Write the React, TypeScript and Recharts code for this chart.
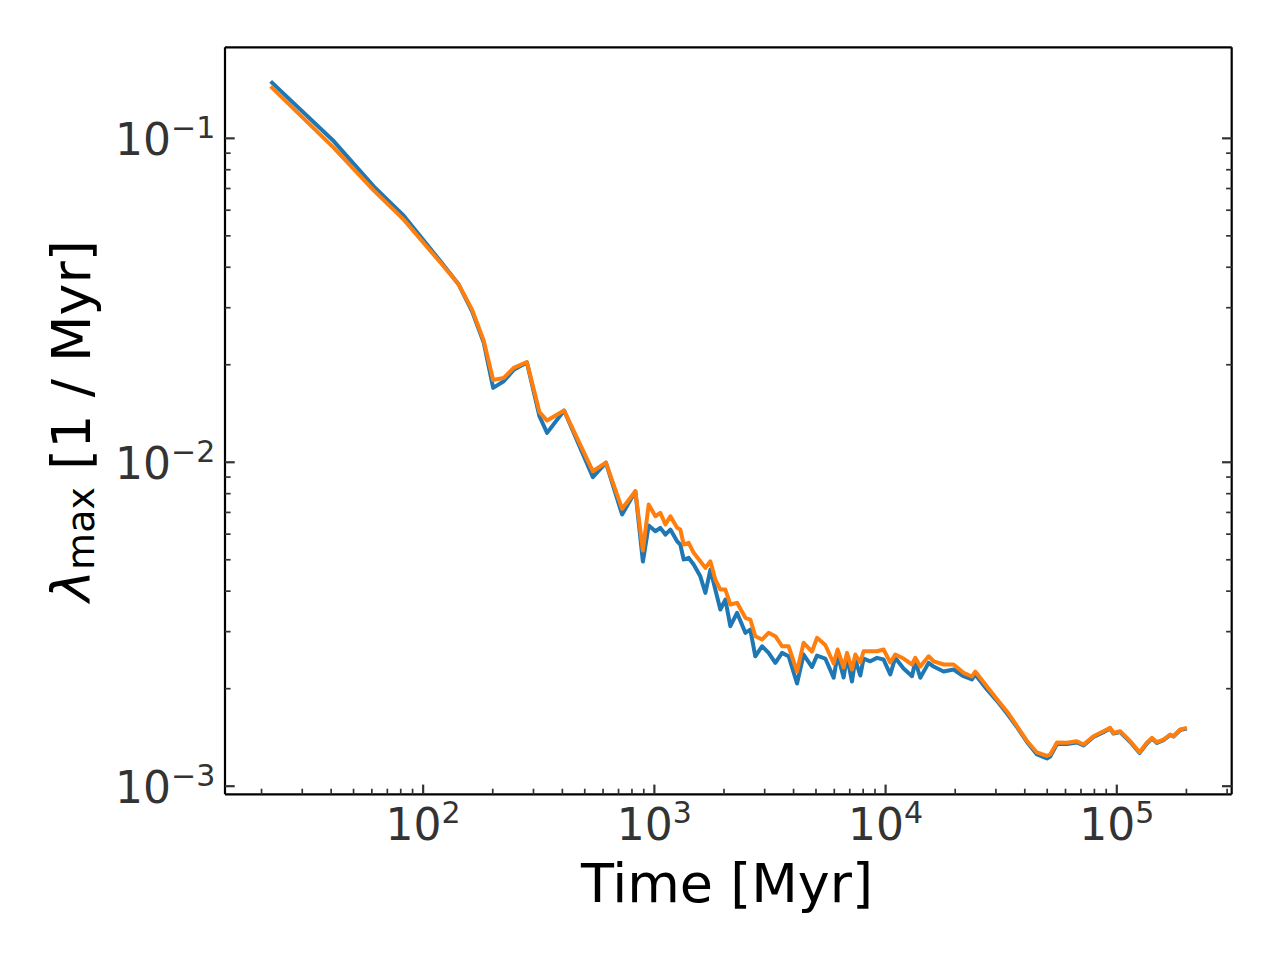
import React from 'react';
import { LineChart, Line, XAxis, YAxis } from 'recharts';

// Time in Myr
const times = [
  21.9, 41.1, 61.1, 82.4, 118.8, 142.5, 162.8, 182.8, 200.8, 223.1,
  246.5, 281.0, 318.4, 343.6, 407.0, 542.1, 617.1, 725.2, 827.7, 892.0,
  945.0, 1010, 1061, 1116, 1173, 1254, 1295, 1339, 1407, 1479,
  1580, 1662, 1747, 1835, 1929, 2028, 2131, 2278, 2475, 2600,
  2733, 2921, 3120, 3336, 3566, 3807, 4140, 4421, 4806, 5051,
  5486, 5961, 6203, 6584, 6810, 7157, 7396, 7773, 8033, 8587,
  9180, 9802, 10480, 11010, 11960, 13010, 13440, 14130, 15350, 16130,
  17820, 19680, 21740, 23630, 24420, 27440, 30800, 34020, 36990, 40870,
  45150, 49860, 51530, 55100, 60850, 67220, 71780, 79280, 87590, 93650,
  96760, 103400, 114300, 125400, 134900, 141800, 149100, 159200, 170200, 175900,
  188000, 200900,
];

// lambda_max, first run (blue)
const blueValues = [
  0.1499, 0.0979, 0.0711, 0.0577, 0.04174, 0.03536, 0.02924, 0.02341, 0.01697, 0.01778,
  0.01932, 0.02032, 0.01387, 0.01232, 0.01444, 0.009, 0.00998, 0.006898, 0.008136, 0.004937,
  0.006378, 0.006124, 0.006274, 0.005981, 0.006198, 0.005704, 0.005572, 0.005008, 0.005068, 0.004833,
  0.004446, 0.003952, 0.004664, 0.004046, 0.003511, 0.003769, 0.003118, 0.003429, 0.002975, 0.003045,
  0.002518, 0.002704, 0.00258, 0.002403, 0.00258, 0.002518, 0.002075, 0.002549, 0.002333, 0.002531,
  0.002478, 0.002161, 0.002549, 0.002165, 0.002513, 0.002104, 0.00246, 0.002196, 0.002478, 0.00243,
  0.00249, 0.00246, 0.002212, 0.00249, 0.002308, 0.002185, 0.00243, 0.002161, 0.002403, 0.002341,
  0.002259, 0.002292, 0.002185, 0.002135, 0.002212, 0.001988, 0.001809, 0.001652, 0.001523, 0.001369,
  0.001253, 0.001218, 0.001235, 0.00135, 0.00135, 0.001364, 0.001336, 0.001418, 0.001469, 0.001506,
  0.001454, 0.001469, 0.001369, 0.001266, 0.001355, 0.001403, 0.001359, 0.001388, 0.001439, 0.001424,
  0.001491, 0.001506,
];

// lambda_max, second run (orange)
const orangeValues = [
  0.1447, 0.0934, 0.0691, 0.0561, 0.04135, 0.03536, 0.0296, 0.02374, 0.01794, 0.01822,
  0.01956, 0.02039, 0.01429, 0.01345, 0.01444, 0.00938, 0.00998, 0.007183, 0.008136, 0.005339,
  0.007405, 0.006814, 0.006981, 0.006423, 0.006814, 0.006274, 0.006198, 0.005572, 0.005639, 0.005253,
  0.004947, 0.004721, 0.004947, 0.004345, 0.004046, 0.004046, 0.003638, 0.003682, 0.00331, 0.00327,
  0.002904, 0.002836, 0.002975, 0.002904, 0.002704, 0.002704, 0.002259, 0.002771, 0.002604, 0.002871,
  0.002728, 0.002392, 0.002642, 0.002325, 0.00258, 0.002292, 0.002549, 0.002409, 0.00261, 0.00261,
  0.00261, 0.002642, 0.002409, 0.002549, 0.002478, 0.002375, 0.00249, 0.002341, 0.002518, 0.00243,
  0.002375, 0.002375, 0.002239, 0.002181, 0.002259, 0.002031, 0.001829, 0.001676, 0.001534, 0.001379,
  0.001271, 0.00124, 0.001253, 0.001364, 0.001362, 0.001377, 0.001345, 0.001426, 0.001478, 0.001514,
  0.00146, 0.001478, 0.001377, 0.001273, 0.001362, 0.00141, 0.001367, 0.001393, 0.001444, 0.001426,
  0.001496, 0.001514,
];

const xDomain = [13.9, 3.14e5];
const yDomain = [9.44e-4, 0.191];

const xMajorTicks = [1e2, 1e3, 1e4, 1e5];
const xMinorTicks = [
  20, 30, 40, 50, 60, 70, 80, 90,
  200, 300, 400, 500, 600, 700, 800, 900,
  2000, 3000, 4000, 5000, 6000, 7000, 8000, 9000,
  20000, 30000, 40000, 50000, 60000, 70000, 80000, 90000,
  200000, 300000,
];
const yMajorTicks = [1e-3, 1e-2, 1e-1];
const yMinorTicks = [
  0.002, 0.003, 0.004, 0.005, 0.006, 0.007, 0.008, 0.009,
  0.02, 0.03, 0.04, 0.05, 0.06, 0.07, 0.08, 0.09,
];
const xTickLabels = ['2', '3', '4', '5'];
const yTickLabels = ['\u22123', '\u22122', '\u22121'];

const xTicks = [...xMajorTicks, ...xMinorTicks].sort((a, b) => a - b);
const yTicks = [...yMajorTicks, ...yMinorTicks].sort((a, b) => a - b);

const data = times.map((t, i) => ({ time: t, blue: blueValues[i], orange: orangeValues[i] }));

const FONT = '"DejaVu Sans", sans-serif';
const TICK_COLOR = '#333333';
const MAJOR_LEN = 9.7;
const MINOR_LEN = 5.6;

function BottomTick(props: any) {
  const { x, y, payload } = props;
  const idx = xMajorTicks.indexOf(payload.value);
  const major = idx >= 0;
  return (
    <g>
      <line x1={x} y1={y} x2={x} y2={y - (major ? MAJOR_LEN : MINOR_LEN)} stroke={TICK_COLOR} strokeWidth={major ? 2.2 : 1.7} />
      {major && (
        <text x={x} y={y + 46} textAnchor="middle" fill={TICK_COLOR} fontFamily={FONT} fontSize={44}>
          10<tspan dy={-17} fontSize={30}>{xTickLabels[idx]}</tspan>
        </text>
      )}
    </g>
  );
}

function TopTick(props: any) {
  const { x, y, payload } = props;
  const major = xMajorTicks.includes(payload.value);
  return <line x1={x} y1={y} x2={x} y2={y + (major ? MAJOR_LEN : MINOR_LEN)} stroke={TICK_COLOR} strokeWidth={major ? 2.2 : 1.7} />;
}

function LeftTick(props: any) {
  const { x, y, payload } = props;
  const idx = yMajorTicks.indexOf(payload.value);
  const major = idx >= 0;
  return (
    <g>
      <line x1={x} y1={y} x2={x + (major ? MAJOR_LEN : MINOR_LEN)} y2={y} stroke={TICK_COLOR} strokeWidth={major ? 2.2 : 1.7} />
      {major && (
        <text x={x - 9.7} y={y + 16.5} textAnchor="end" fill={TICK_COLOR} fontFamily={FONT} fontSize={44}>
          10<tspan dy={-17} fontSize={30}>{yTickLabels[idx]}</tspan>
        </text>
      )}
    </g>
  );
}

function RightTick(props: any) {
  const { x, y, payload } = props;
  const major = yMajorTicks.includes(payload.value);
  return <line x1={x} y1={y} x2={x - (major ? MAJOR_LEN : MINOR_LEN)} y2={y} stroke={TICK_COLOR} strokeWidth={major ? 2.2 : 1.7} />;
}

const frame = { stroke: '#000', strokeWidth: 2.2 };

export default function App() {
  return (
    <div style={{ position: 'absolute', left: 0, top: 0, width: 1280, height: 960, background: '#fff' }}>
      <LineChart width={1280} height={960} data={data} margin={{ top: 46.3, right: 47.3, bottom: 105.7, left: 75 }}>
        <XAxis
          xAxisId="bottom"
          dataKey="time"
          type="number"
          scale="log"
          domain={xDomain}
          allowDataOverflow
          ticks={xTicks}
          interval={0}
          tickSize={0}
          tickMargin={0}
          tickLine={false}
          axisLine={frame}
          tick={(p: any) => <BottomTick {...p} />}
          height={60}
        />
        <XAxis
          xAxisId="top"
          orientation="top"
          type="number"
          scale="log"
          domain={xDomain}
          allowDataOverflow
          ticks={xTicks}
          interval={0}
          tickSize={0}
          tickMargin={0}
          tickLine={false}
          axisLine={frame}
          tick={(p: any) => <TopTick {...p} />}
          height={1}
        />
        <YAxis
          yAxisId="left"
          type="number"
          scale="log"
          domain={yDomain}
          allowDataOverflow
          ticks={yTicks}
          interval={0}
          tickSize={0}
          tickMargin={0}
          tickLine={false}
          axisLine={frame}
          tick={(p: any) => <LeftTick {...p} />}
          width={150}
        />
        <YAxis
          yAxisId="right"
          orientation="right"
          type="number"
          scale="log"
          domain={yDomain}
          allowDataOverflow
          ticks={yTicks}
          interval={0}
          tickSize={0}
          tickMargin={0}
          tickLine={false}
          axisLine={frame}
          tick={(p: any) => <RightTick {...p} />}
          width={1}
        />
        <Line xAxisId="bottom" yAxisId="left" type="linear" dataKey="blue" stroke="#1f77b4" strokeWidth={4} strokeLinejoin="round" dot={false} isAnimationActive={false} />
        <Line xAxisId="bottom" yAxisId="left" type="linear" dataKey="orange" stroke="#ff7f0e" strokeWidth={4} strokeLinejoin="round" dot={false} isAnimationActive={false} />
      </LineChart>
      <svg width={1280} height={960} style={{ position: 'absolute', left: 0, top: 0, pointerEvents: 'none' }}>
        <text x={727} y={901.7} textAnchor="middle" fill="#000" fontFamily={FONT} fontSize={54}>
          Time [Myr]
        </text>
        <text x={90} y={421} transform="rotate(-90 90 421)" textAnchor="middle" fill="#000" fontFamily={FONT} fontSize={54}>
          <tspan fontStyle="italic">λ</tspan>
          <tspan fontSize={38} dy={4}>max</tspan>
          <tspan dy={-4}> [1 / Myr]</tspan>
        </text>
      </svg>
    </div>
  );
}
